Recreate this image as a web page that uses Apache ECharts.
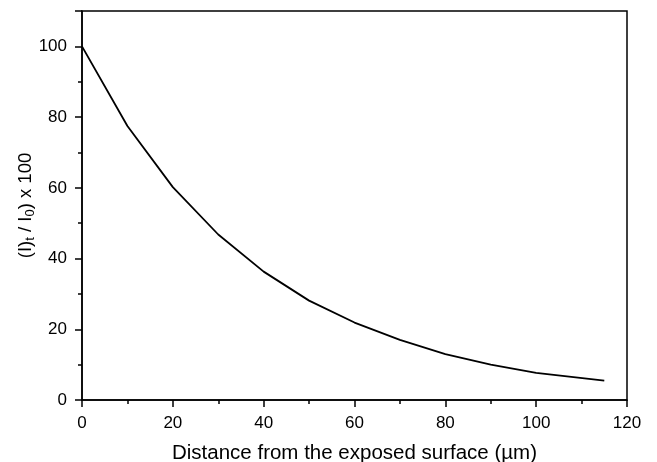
<!DOCTYPE html>
<html>
<head>
    <meta charset="utf-8">
    <script src="https://cdn.jsdelivr.net/npm/echarts@6/dist/echarts.min.js"></script>
</head>
<body style="margin:0;background:#fff;">
    <div id="main" style="width: 657px;height:462px;"></div>
    <script type="text/javascript">
        // distance from the exposed surface (um)
        var distance = [0, 10, 20, 30, 40, 50, 60, 70, 80, 90, 100, 115];
        // (I)t / I0 x 100
        var intensity = [100, 77.5, 60.2, 46.8, 36.3, 28.1, 21.9, 17.0, 13.0, 10.0, 7.7, 5.5];

        var xLabelTicks = [0, 20, 40, 60, 80, 100, 120];
        var yLabelTicks = [0, 20, 40, 60, 80, 100];

        var points = [];
        for (var i = 0; i < distance.length; i++) {
            points.push([distance[i], intensity[i]]);
        }

        var myChart = echarts.init(document.getElementById('main'));
        var font = 'Liberation Sans';

        var option = {
            animation: false,
            grid: {
                left: 82, right: 30, top: 11, bottom: 62,
                outerBoundsMode: 'none',
                containLabel: false,
                show: true,
                borderColor: '#000',
                borderWidth: 1.5
            },
            xAxis: {
                type: 'value',
                min: 0, max: 120, interval: 20,
                name: 'Distance from the exposed surface (\u00b5m)',
                nameLocation: 'middle',
                nameGap: 43,
                nameTextStyle: { color: '#000', fontFamily: font, fontSize: 20.5 },
                axisLine: { lineStyle: { color: '#000', width: 1.5 } },
                axisTick: { inside: false, length: 7, lineStyle: { color: '#000', width: 1.5 } },
                minorTick: { show: true, splitNumber: 2, length: 4, lineStyle: { color: '#000', width: 1.5 } },
                axisLabel: {
                    color: '#000', fontFamily: font, fontSize: 17, margin: 15,
                    formatter: function (v) { return xLabelTicks.indexOf(v) >= 0 ? String(v) : ''; }
                },
                splitLine: { show: false }
            },
            yAxis: [{
                type: 'value',
                min: 0, max: 110, interval: 20,
                name: '{a|(I)}{s|t}{a| / I}{s|0}{a|) x 100}',
                nameLocation: 'middle',
                nameGap: 45,
                nameMoveOverlap: false,
                nameRotate: 90,
                nameTextStyle: {
                    rich: {
                        a: { color: '#000', fontFamily: font, fontSize: 18.5 },
                        s: { color: '#000', fontFamily: font, fontSize: 13, padding: [9, 0, 0, 0] }
                    }
                },
                axisLine: { lineStyle: { color: '#000', width: 1.5 } },
                axisTick: { inside: false, length: 7, lineStyle: { color: '#000', width: 1.5 } },
                axisLabel: {
                    color: '#000', fontFamily: font, fontSize: 17, margin: 15,
                    formatter: function (v) { return yLabelTicks.indexOf(v) >= 0 ? String(v) : ''; }
                },
                splitLine: { show: false }
            }, {
                // minor ticks every 10
                type: 'value',
                position: 'left',
                min: 0, max: 110, interval: 10,
                axisLine: { show: false },
                axisTick: { inside: false, length: 4, lineStyle: { color: '#000', width: 1.5 } },
                axisLabel: { show: false },
                splitLine: { show: false }
            }],
            series: [{
                type: 'line',
                data: points,
                yAxisIndex: 0,
                symbol: 'none',
                smooth: false,
                lineStyle: { color: '#000', width: 1.8 }
            }]
        };

        myChart.setOption(option);
    </script>
</body>
</html>
